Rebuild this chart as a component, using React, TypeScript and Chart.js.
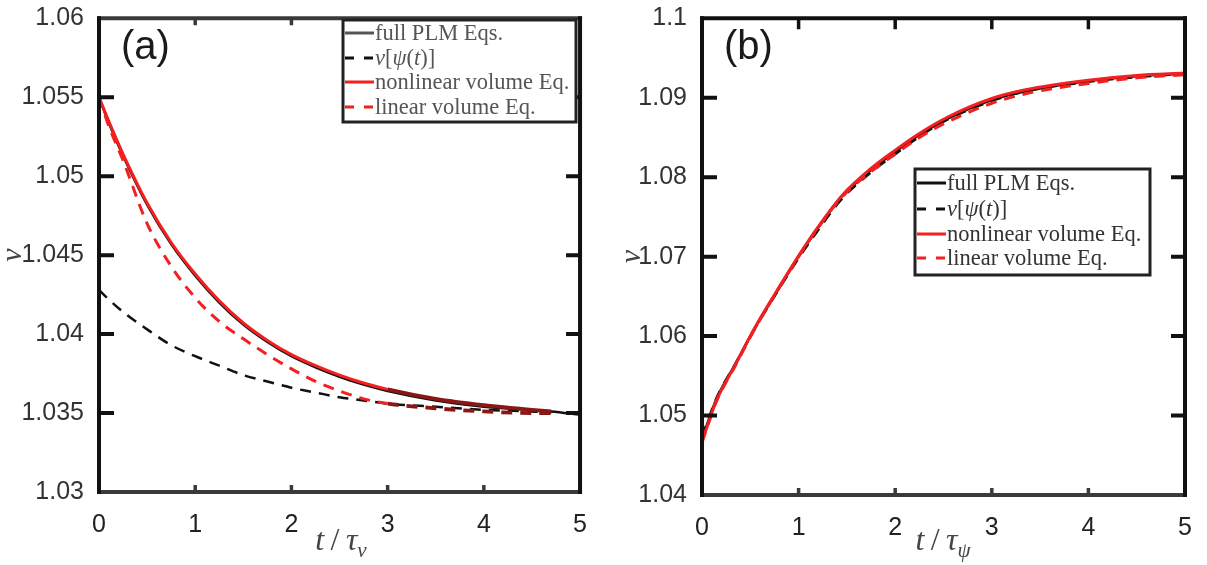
import { useEffect, useRef } from "react";
import { Chart, registerables } from "chart.js";

Chart.register(...registerables);

// ---------------- data ----------------
const X_TICKS = [0, 1, 2, 3, 4, 5];

// panel (a)
const T_A = [0, 0.1, 0.25, 0.5, 0.75, 1, 1.25, 1.5, 1.75, 2, 2.25, 2.5, 2.75, 3, 3.5, 4, 4.5, 4.7, 5];
const A_FULL = [1.055, 1.0534, 1.0513, 1.0482, 1.0457, 1.0437, 1.042, 1.0406, 1.0395, 1.0386, 1.0379, 1.0373, 1.0368, 1.0364, 1.0358, 1.0354, 1.0352, 1.0351, 1.0349];
const A_PSI = [1.0428, 1.0422, 1.0414, 1.0403, 1.0393, 1.0386, 1.038, 1.0374, 1.037, 1.0366, 1.0363, 1.036, 1.0358, 1.0356, 1.0354, 1.0352, 1.0351, 1.035];
const A_NONLIN = [1.055, 1.0535, 1.0514, 1.0483, 1.0458, 1.0438, 1.0421, 1.0407, 1.0396, 1.0387, 1.038, 1.0374, 1.0369, 1.0365, 1.0359, 1.0355, 1.0352, 1.0351];
const A_LIN = [1.055, 1.0532, 1.051, 1.047, 1.0443, 1.0423, 1.0408, 1.0397, 1.0387, 1.0378, 1.037, 1.0364, 1.0359, 1.0356, 1.0353, 1.0351, 1.035, 1.035];

// panel (b)
const T_B = [0, 0.05, 0.15, 0.35, 0.55, 0.75, 1, 1.2, 1.45, 1.75, 2, 2.25, 2.55, 3, 3.35, 4, 4.5, 5];
const B_FULL = [1.0472, 1.0488, 1.0521, 1.0566, 1.0611, 1.0651, 1.07, 1.0736, 1.0776, 1.0809, 1.0832, 1.0853, 1.0874, 1.0897, 1.0908, 1.0921, 1.0927, 1.093];
const B_PSI = [1.0474, 1.049, 1.0522, 1.0566, 1.061, 1.065, 1.0698, 1.0733, 1.0773, 1.0806, 1.0829, 1.0851, 1.0873, 1.0896, 1.0908, 1.092, 1.0926, 1.093];
const B_NONLIN = [1.0468, 1.0485, 1.0519, 1.0565, 1.0611, 1.0652, 1.0701, 1.0737, 1.0777, 1.0811, 1.0834, 1.0855, 1.0876, 1.0899, 1.091, 1.0922, 1.0928, 1.0931];
const B_LIN = [1.0466, 1.0484, 1.0518, 1.0564, 1.061, 1.0651, 1.07, 1.0736, 1.0775, 1.0807, 1.0829, 1.085, 1.087, 1.0893, 1.0905, 1.0918, 1.0925, 1.0929];

const LEGEND_LABELS = ["full PLM Eqs.", "v[ψ(t)]", "nonlinear volume Eq.", "linear volume Eq."];

// ---------------- styles ----------------
const RED = "rgb(242,32,32)";
const DARK_RED = "rgb(138,22,22)";
const BLACK = "#111";
const SANS = "'Liberation Sans', Arial, sans-serif";
const SERIF = "'Liberation Serif', 'Times New Roman', serif";

type Part = [string, boolean];

function drawParts(ctx: CanvasRenderingContext2D, parts: Part[], x: number, y: number, size: number) {
  let cx = x;
  for (const [s, it] of parts) {
    ctx.font = `${it ? "italic " : ""}${size}px ${SERIF}`;
    ctx.fillText(s, cx, y);
    cx += ctx.measureText(s).width;
  }
  return cx;
}
function partsWidth(ctx: CanvasRenderingContext2D, parts: Part[], size: number) {
  let w = 0;
  for (const [s, it] of parts) {
    ctx.font = `${it ? "italic " : ""}${size}px ${SERIF}`;
    w += ctx.measureText(s).width;
  }
  return w;
}

function labelParts(label: string): Part[] {
  if (label === "v[ψ(t)]") {
    return [["v", true], ["[", false], ["ψ", true], ["(", false], ["t", true], [")]", false]];
  }
  return [[label, false]];
}

interface PanelCfg {
  tag: string;
  yMin: number;
  yMax: number;
  yStep: number;
  yWidth: number;
  xHeight: number;
  padRight: number;
  width: number;
  sub: string;
  full: number[];
  psi: number[];
  nonlin: number[];
  lin: number[];
  t: number[];
  darkFrom: number | null;
  legend: { x: number; y: number; w: number; h: number; rows: number[]; textColor: string; fullColor: string };
  titleX: number;
  yTitleX: number;
  topTick: number;
}

function pts(t: number[], v: number[]) {
  return v.map((y, i) => ({ x: t[i], y }));
}

function makeDecor(p: PanelCfg) {
  return {
    id: "decor_" + p.tag,
    afterDraw(chart: any) {
      const ctx: CanvasRenderingContext2D = chart.ctx;
      const { left, right, top, bottom } = chart.chartArea;
      const xs = chart.scales.x;
      const ys = chart.scales.y;
      ctx.save();
      // frame
      ctx.lineCap = "square";
      ctx.lineWidth = 4;
      ctx.strokeStyle = "#3a3a3a";
      ctx.beginPath();
      ctx.moveTo(left, bottom);
      ctx.lineTo(right, bottom);
      ctx.stroke();
      ctx.strokeStyle = p.tag === "a" ? "#3a3a3a" : BLACK;
      ctx.beginPath();
      ctx.moveTo(left, top);
      ctx.lineTo(right, top);
      ctx.stroke();
      ctx.strokeStyle = BLACK;
      ctx.beginPath();
      ctx.moveTo(left, top);
      ctx.lineTo(left, bottom);
      ctx.moveTo(right, top);
      ctx.lineTo(right, bottom);
      ctx.stroke();
      // ticks
      ctx.lineCap = "butt";
      ctx.lineWidth = 4;
      ctx.strokeStyle = BLACK;
      for (const tk of ys.ticks) {
        const v = tk.value;
        if (v <= p.yMin + 1e-9 || v >= p.yMax - 1e-9) continue;
        const py = ys.getPixelForValue(v);
        ctx.beginPath();
        ctx.moveTo(left, py);
        ctx.lineTo(left + 15, py);
        ctx.moveTo(right, py);
        ctx.lineTo(right - 14, py);
        ctx.stroke();
      }
      ctx.lineWidth = 3.5;
      for (const tk of xs.ticks) {
        const v = tk.value;
        if (v <= 0 || v >= 5) continue;
        const px = xs.getPixelForValue(v);
        ctx.strokeStyle = "#3a3a3a";
        ctx.beginPath();
        ctx.moveTo(px, bottom);
        ctx.lineTo(px, bottom - 7);
        ctx.stroke();
        ctx.strokeStyle = p.tag === "a" ? "#3a3a3a" : BLACK;
        ctx.beginPath();
        ctx.moveTo(px, top);
        ctx.lineTo(px, top + p.topTick);
        ctx.stroke();
      }
      // panel label
      ctx.fillStyle = "#1a1a1a";
      ctx.font = `40px ${SANS}`;
      ctx.textAlign = "left";
      ctx.textBaseline = "middle";
      ctx.fillText(`(${p.tag})`, left + 22, 48);
      // x title
      ctx.fillStyle = "#444";
      ctx.textBaseline = "alphabetic";
      const main: Part[] = [["t", true], ["\u2009/\u2009", false], ["τ", true]];
      const size = 32;
      const w = partsWidth(ctx, main, size) + partsWidth(ctx, [[p.sub, true]], 21);
      const endX = drawParts(ctx, main, p.titleX - w / 2, 550, size);
      drawParts(ctx, [[p.sub, true]], endX, 557, 21);
      // y title
      ctx.save();
      ctx.translate(p.yTitleX, (top + bottom) / 2);
      ctx.rotate(-Math.PI / 2);
      ctx.textAlign = "center";
      ctx.textBaseline = "middle";
      ctx.font = `italic 30px ${SERIF}`;
      ctx.fillText("v", 0, 0);
      ctx.restore();
      // legend
      const L = p.legend;
      ctx.fillStyle = "#fff";
      ctx.fillRect(L.x, L.y, L.w, L.h);
      ctx.lineWidth = 3;
      ctx.strokeStyle = "#222";
      ctx.strokeRect(L.x, L.y, L.w, L.h);
      const styles = [
        { c: L.fullColor, d: [] as number[] },
        { c: BLACK, d: [9, 10] },
        { c: RED, d: [] as number[] },
        { c: RED, d: [9, 10] },
      ];
      LEGEND_LABELS.forEach((lab, i) => {
        const ry = L.rows[i];
        ctx.strokeStyle = styles[i].c;
        ctx.lineWidth = 3;
        ctx.setLineDash(styles[i].d);
        ctx.beginPath();
        ctx.moveTo(L.x + 2, ry);
        ctx.lineTo(L.x + 31, ry);
        ctx.stroke();
        ctx.setLineDash([]);
        ctx.fillStyle = L.textColor;
        ctx.textAlign = "left";
        ctx.textBaseline = "middle";
        drawParts(ctx, labelParts(lab), L.x + 32, ry + 1, 22.5);
      });
      ctx.restore();
    },
  };
}

function buildConfig(p: PanelCfg): any {
  const dark = (c: any) => p.darkFrom !== null && c.p0.parsed.x >= p.darkFrom;
  const segColor = (c: any) => (dark(c) ? DARK_RED : undefined);
  const segWidth = (c: any) => (dark(c) ? 3.8 : undefined);
  const nT = p.t.slice(0, p.nonlin.length);
  return {
    type: "line",
    data: {
      datasets: [
        { label: LEGEND_LABELS[2], data: pts(nT, p.nonlin), borderColor: RED, borderWidth: 3, segment: { borderColor: segColor, borderWidth: segWidth } },
        { label: LEGEND_LABELS[3], data: pts(p.t.slice(0, p.lin.length), p.lin), borderColor: RED, borderWidth: 3, borderDash: [11, 8], segment: { borderColor: segColor, borderWidth: segWidth } },
        { label: LEGEND_LABELS[0], data: pts(p.t, p.full), borderColor: BLACK, borderWidth: 2.5 },
        { label: LEGEND_LABELS[1], data: pts(p.t.slice(0, p.psi.length), p.psi), borderColor: BLACK, borderWidth: 2.5, borderDash: [11, 8] },
      ],
    },
    options: {
      animation: false,
      responsive: false,
      devicePixelRatio: 1,
      layout: { padding: { top: 12, right: p.padRight, left: 0, bottom: 0 } },
      elements: { point: { radius: 0 }, line: { cubicInterpolationMode: "monotone", fill: false } },
      plugins: { legend: { display: false }, tooltip: { enabled: false } },
      scales: {
        x: {
          type: "linear",
          min: 0,
          max: 5,
          afterBuildTicks: (s: any) => {
            s.ticks = X_TICKS.map((v) => ({ value: v }));
          },
          ticks: { font: { family: SANS, size: 25, lineHeight: 1 }, color: "#222", padding: 13, maxRotation: 0 },
          grid: { display: false },
          border: { display: false },
          afterFit: (s: any) => {
            s.height = p.xHeight;
          },
        },
        y: {
          type: "linear",
          min: p.yMin,
          max: p.yMax,
          ticks: {
            stepSize: p.yStep,
            font: { family: SANS, size: 25, lineHeight: 0.9 },
            color: "#333",
            padding: 7,
            callback: (v: number) => String(Number(v.toFixed(3))),
          },
          grid: { display: false },
          border: { display: false },
          afterFit: (s: any) => {
            s.width = p.yWidth;
          },
        },
      },
    },
    plugins: [makeDecor(p)],
  };
}

const PANEL_A: PanelCfg = {
  tag: "a",
  yMin: 1.03,
  yMax: 1.06,
  yStep: 0.005,
  yWidth: 99,
  xHeight: 73,
  padRight: 17,
  width: 600,
  sub: "v",
  t: T_A,
  full: A_FULL,
  psi: A_PSI,
  nonlin: A_NONLIN,
  lin: A_LIN,
  darkFrom: 2.8,
  legend: { x: 343, y: 20, w: 233, h: 102, rows: [33, 58, 82, 107], textColor: "#555", fullColor: "#555" },
  titleX: 341,
  yTitleX: 13,
  topTick: 7,
};

const PANEL_B: PanelCfg = {
  tag: "b",
  yMin: 1.04,
  yMax: 1.1,
  yStep: 0.01,
  yWidth: 102,
  xHeight: 70,
  padRight: 22,
  width: 607,
  sub: "ψ",
  t: T_B,
  full: B_FULL,
  psi: B_PSI,
  nonlin: B_NONLIN,
  lin: B_LIN,
  darkFrom: null,
  legend: { x: 315, y: 169, w: 235, h: 106, rows: [183, 209, 234, 258], textColor: "#333", fullColor: BLACK },
  titleX: 343,
  yTitleX: 32,
  topTick: 11,
};

function Panel({ cfg, left }: { cfg: PanelCfg; left: number }) {
  const ref = useRef<HTMLCanvasElement | null>(null);
  useEffect(() => {
    if (!ref.current) return;
    const chart = new Chart(ref.current, buildConfig(cfg));
    return () => chart.destroy();
  }, [cfg]);
  return (
    <canvas
      ref={ref}
      width={cfg.width}
      height={565}
      style={{ position: "absolute", left, top: 0, width: cfg.width, height: 565, display: "block" }}
    />
  );
}

export default function App() {
  return (
    <div style={{ position: "absolute", left: 0, top: 0, width: 1207, height: 565, background: "#fff", overflow: "hidden" }}>
      <Panel cfg={PANEL_A} left={0} />
      <Panel cfg={PANEL_B} left={600} />
    </div>
  );
}
